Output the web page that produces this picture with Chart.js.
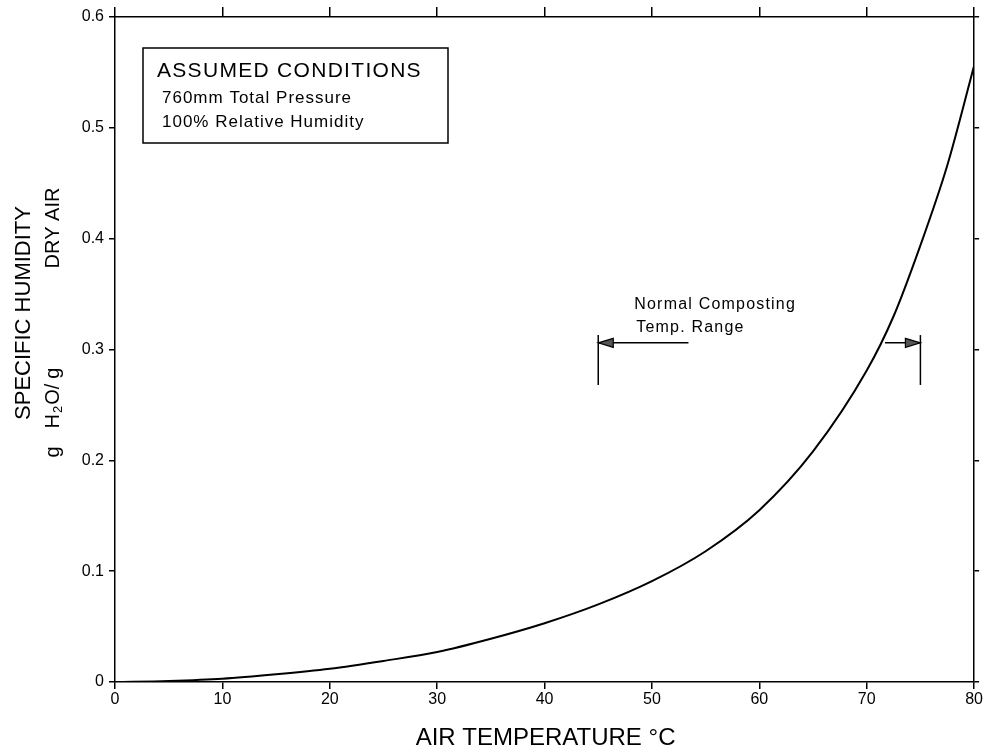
<!DOCTYPE html>
<html>
<head>
<meta charset="utf-8">
<title>Specific humidity vs air temperature</title>
<script src="https://cdn.jsdelivr.net/npm/chart.js@4.4.1/dist/chart.umd.min.js"></script>
<style>
  html, body { margin: 0; padding: 0; background: #fff; }
  #wrap { width: 984px; height: 751px; }
</style>
</head>
<body>
<div id="wrap"><canvas id="chart" width="984" height="751"></canvas></div>
<script>
// saturation curve (deg C -> g H2O / g dry air)
const temps    = [0, 5, 10, 15, 20, 25, 30, 35, 40, 45, 50, 55, 60, 65, 70, 72.5, 75, 77.5, 80];
const humidity = [0, 0.001, 0.003, 0.007, 0.012, 0.019, 0.027, 0.039, 0.053, 0.070, 0.091, 0.118, 0.155, 0.208, 0.281, 0.330, 0.394, 0.466, 0.556];

const xTicks = [0, 10, 20, 30, 40, 50, 60, 70, 80];
const yTicks = [0, 0.1, 0.2, 0.3, 0.4, 0.5, 0.6];
const yTickLabels = ["0", "0.1", "0.2", "0.3", "0.4", "0.5", "0.6"];

// "Normal Composting Temp. Range" marker
const rangeBounds = [45, 75];        // deg C
const rangeBarY   = [0.268, 0.313];  // vertical extent of the end bars
const arrowY      = 0.306;
const leftShaftX  = [45, 53.4];
const rightShaftX = [71.7, 75];

const FONT = '"Liberation Sans", Arial, sans-serif';

(function () {
  const ctxEl = document.getElementById("chart");

  function txt(ctx, s, x, y, size, spacing, align) {
    ctx.font = size + "px " + FONT;
    ctx.letterSpacing = (spacing || 0) + "px";
    ctx.textAlign = align || "left";
    ctx.fillText(s, x, y);
  }

  // rotated label centred on (cx, cy), reading bottom to top
  function vtxt(ctx, parts, cx, cy) {
    ctx.save();
    ctx.translate(cx, cy);
    ctx.rotate(-Math.PI / 2);
    ctx.textBaseline = "middle";
    ctx.textAlign = "left";
    ctx.letterSpacing = "0px";
    let w = 0;
    parts.forEach(p => { ctx.font = p.size + "px " + FONT; w += ctx.measureText(p.t).width + (p.gap || 0); });
    let x = -w / 2;
    parts.forEach(p => {
      ctx.font = p.size + "px " + FONT;
      ctx.fillText(p.t, x, p.dy || 0);
      x += ctx.measureText(p.t).width + (p.gap || 0);
    });
    ctx.restore();
  }

  const decor = {
    id: "decor",
    afterDraw(chart) {
      const { ctx, chartArea: a, scales: { x, y } } = chart;
      ctx.save();
      ctx.fillStyle = "#000";
      ctx.strokeStyle = "#000";
      ctx.textBaseline = "alphabetic";

      // assumed conditions box
      ctx.lineWidth = 1.5;
      ctx.strokeRect(a.left + 28, a.top + 31, 305, 95);
      txt(ctx, "ASSUMED CONDITIONS", a.left + 42, a.top + 60, 21, 1.3);
      txt(ctx, "760mm Total Pressure", a.left + 47, a.top + 86, 17, 1);
      txt(ctx, "100% Relative Humidity", a.left + 47, a.top + 110, 17, 1);

      // arrowheads on the range marker
      const yA = y.getPixelForValue(arrowY);
      const xl = x.getPixelForValue(rangeBounds[0]);
      const xr = x.getPixelForValue(rangeBounds[1]);
      ctx.fillStyle = "#555";
      ctx.lineWidth = 1.2;
      [[xl, 1], [xr, -1]].forEach(([px, dir]) => {
        ctx.beginPath();
        ctx.moveTo(px, yA);
        ctx.lineTo(px + dir * 15, yA - 4.5);
        ctx.lineTo(px + dir * 15, yA + 4.5);
        ctx.closePath();
        ctx.fill();
        ctx.stroke();
      });
      ctx.fillStyle = "#000";
      txt(ctx, "Normal Composting", xl + 36, yA - 34, 16, 1.2);
      txt(ctx, "Temp. Range", xl + 38, yA - 11, 16, 1.2);

      // x axis title
      txt(ctx, "AIR TEMPERATURE °C", (a.left + a.right) / 2 + 1, 745, 24, 0, "center");

      // y axis title, two lines
      vtxt(ctx, [{ t: "SPECIFIC HUMIDITY", size: 22 }], 24, 313);
      vtxt(ctx, [{ t: "g", size: 20 }], 53, 452);
      vtxt(ctx, [
        { t: "H", size: 20, gap: 1 },
        { t: "2", size: 13, dy: 5, gap: 1 },
        { t: "O/", size: 20, gap: 5 },
        { t: "g", size: 20 }
      ], 53, 398);
      vtxt(ctx, [{ t: "DRY AIR", size: 20 }], 53, 228);
      ctx.restore();
    }
  };

  const seg = (xs, ys) => xs.map((v, i) => ({ x: v, y: ys[i] }));
  const thin = { borderColor: "#000", borderWidth: 1.5, pointRadius: 0, fill: false, tension: 0 };

  const datasets = [
    {
      label: "Specific humidity",
      data: seg(temps, humidity),
      borderColor: "#000",
      borderWidth: 2,
      pointRadius: 0,
      fill: false,
      cubicInterpolationMode: "monotone"
    },
    { ...thin, data: seg([rangeBounds[0], rangeBounds[0]], rangeBarY) },
    { ...thin, data: seg([rangeBounds[1], rangeBounds[1]], rangeBarY) },
    { ...thin, data: seg(leftShaftX, [arrowY, arrowY]) },
    { ...thin, data: seg(rightShaftX, [arrowY, arrowY]) }
  ];

  const axisGrid = (len) => ({ drawOnChartArea: false, color: "#000", lineWidth: 1.5, tickLength: len });
  const axisBorder = { display: true, color: "#000", width: 1.5 };

  new Chart(ctxEl, {
    type: "line",
    data: { datasets },
    plugins: [decor],
    options: {
      responsive: false,
      animation: false,
      layout: { padding: 0 },
      plugins: { legend: { display: false }, tooltip: { enabled: false } },
      scales: {
        x: {
          type: "linear", position: "bottom", min: 0, max: 80,
          afterBuildTicks: s => { s.ticks = xTicks.map(v => ({ value: v })); },
          afterFit: s => { s.height = 69; },
          grid: axisGrid(7), border: axisBorder,
          ticks: { color: "#000", padding: 1, maxRotation: 0, font: { family: FONT, size: 16 } }
        },
        x2: {
          type: "linear", position: "top", min: 0, max: 80,
          afterBuildTicks: s => { s.ticks = xTicks.map(v => ({ value: v })); },
          afterFit: s => { s.height = 17; },
          grid: axisGrid(10), border: axisBorder,
          ticks: { display: false }
        },
        y: {
          type: "linear", position: "left", min: 0, max: 0.6,
          afterBuildTicks: s => { s.ticks = yTicks.map(v => ({ value: v })); },
          afterFit: s => { s.width = 115; },
          grid: axisGrid(6), border: axisBorder,
          ticks: {
            color: "#000", padding: 5, font: { family: FONT, size: 16 },
            callback: (v) => yTickLabels[yTicks.findIndex(t => Math.abs(t - v) < 1e-9)] ?? ""
          }
        },
        y2: {
          type: "linear", position: "right", min: 0, max: 0.6,
          afterBuildTicks: s => { s.ticks = yTicks.map(v => ({ value: v })); },
          afterFit: s => { s.width = 9; },
          grid: axisGrid(5), border: axisBorder,
          ticks: { display: false }
        }
      }
    }
  });
})();
</script>
</body>
</html>
